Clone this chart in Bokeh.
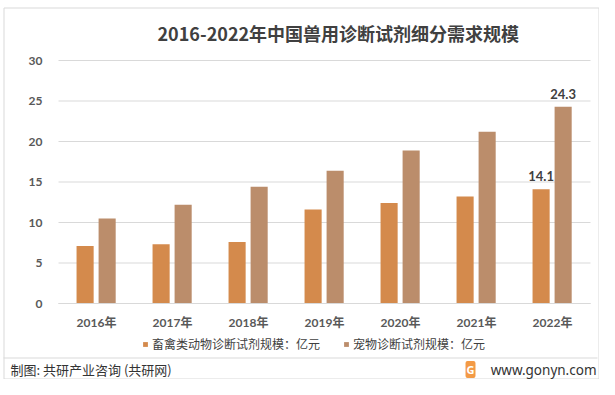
import numpy as np
from bokeh.plotting import figure
from bokeh.models import (ColumnDataSource, Range1d, FixedTicker, Label,
                          Legend, LegendItem)
from bokeh.core.properties import value
from bokeh.embed import file_html
from bokeh.resources import INLINE

years = ["2016年", "2017年", "2018年", "2019年", "2020年", "2021年", "2022年"]
livestock = [7.1, 7.3, 7.6, 11.6, 12.4, 13.2, 14.1]
pet = [10.5, 12.2, 14.4, 16.4, 18.9, 21.2, 24.3]
series_names = ["畜禽类动物诊断试剂规模：亿元", "宠物诊断试剂规模：亿元"]
y_ticks = [0, 5, 10, 15, 20, 25, 30]
title_text = "2016-2022年中国兽用诊断试剂细分需求规模"
footer_left = "制图: 共研产业咨询 (共研网)"
footer_right = "www.gonyn.com"

C1 = "#D48A4C"
C2 = "#BB8D6B"
GRID = "#D9D9D9"
CJK = "'Noto Sans CJK SC'"
NUM = "Lato, 'Noto Sans CJK SC'"

# canvas and plot-area geometry (pixels from top-left)
W, H = 599, 379
PX_L, PX_R = 58, 590          # plot area left / right
PY_0, PY_MAX = 303, 60        # pixel rows of y=0 and y=30
YMAX = y_ticks[-1]
n = len(years)
ppx = (PX_R - PX_L) / n       # pixels per category
ppy = (PY_0 - PY_MAX) / YMAX  # pixels per unit


def dx(px):
    return (px - PX_L) / ppx


def dy(py):
    return (PY_0 - py) / ppy


x_range = Range1d(dx(0), dx(W))
y_range = Range1d(dy(H), dy(0))

p = figure(width=W, height=H, x_range=x_range, y_range=y_range,
           output_backend="svg", toolbar_location=None, min_border=0)
p.outline_line_color = None
p.background_fill_color = "white"
p.border_fill_color = "white"
p.xgrid.visible = False
p.ygrid.visible = False

centers = np.arange(n) + 0.5
OFF1, OFF2, BW = -0.15, 0.14, 0.225
src = ColumnDataSource(dict(x1=centers + OFF1, x2=centers + OFF2, a=livestock, b=pet,
                            la=["" for _ in years[:-1]] + [str(livestock[-1])],
                            lb=["" for _ in years[:-1]] + [str(pet[-1])]))

# outer frame and the separator above the source line (page decoration)
fx0, fx1, fy0, fy1 = dx(3.5), dx(598.5), dy(7.5), dy(378.5)
p.segment(x0=[fx0, fx0, fx1, fx0, dx(3)], y0=[fy0, fy0, fy0, fy1, dy(357.5)],
          x1=[fx1, fx0, fx1, fx1, dx(597)], y1=[fy0, fy1, fy1, fy1, dy(357.5)],
          line_color=GRID, line_width=1)

# horizontal grid lines across the plot area
p.segment(x0=[0] * len(y_ticks), x1=[n] * len(y_ticks), y0=y_ticks, y1=y_ticks,
          line_color=GRID, line_width=1)

r1 = p.vbar(x="x1", top="a", width=BW, source=src, fill_color=C1, line_color=None)
r2 = p.vbar(x="x2", top="b", width=BW, source=src, fill_color=C2, line_color=None)

for xc, yc, tc in (("x1", "a", "la"), ("x2", "b", "lb")):
    p.text(x=xc, y=yc, text=tc, source=src, text_align="center", text_baseline="middle",
           y_offset=-13, text_font=value(NUM), text_font_size="13px",
           text_font_style="bold", text_color="#404040")

# axes fixed inside the canvas
p.yaxis.fixed_location = 0
p.yaxis.ticker = FixedTicker(ticks=y_ticks)
p.yaxis.bounds = (0, YMAX)
p.yaxis.axis_line_color = None
p.yaxis.major_tick_line_color = None
p.yaxis.minor_tick_line_color = None
p.yaxis.major_label_text_font = NUM
p.yaxis.major_label_text_font_size = "12px"
p.yaxis.major_label_text_font_style = "bold"
p.yaxis.major_label_text_color = "#595959"
p.yaxis.major_label_standoff = 10

p.xaxis.fixed_location = 0
p.xaxis.ticker = FixedTicker(ticks=list(centers))
p.xaxis.major_label_overrides = {float(c): y for c, y in zip(centers, years)}
p.xaxis.bounds = (0, n)
p.xaxis.axis_line_color = GRID
p.xaxis.major_tick_line_color = None
p.xaxis.minor_tick_line_color = None
p.xaxis.major_label_text_font = NUM
p.xaxis.major_label_text_font_size = "12px"
p.xaxis.major_label_text_font_style = "bold"
p.xaxis.major_label_text_color = "#595959"
p.xaxis.major_label_standoff = 5


def lbl(x, y, text, **kw):
    p.add_layout(Label(x=x, y=H - y, x_units="screen", y_units="screen", text=text, **kw))


lbl(157, 32, title_text, text_align="left", text_baseline="middle", text_font=CJK,
    text_font_size="18px", text_font_style="bold", text_color="#404040")
lbl(10, 369, footer_left, text_align="left", text_baseline="middle", text_font=CJK,
    text_font_size="13px", text_color="#333333")
lbl(596, 369, footer_right, text_align="right", text_baseline="middle",
    text_font="'Noto Sans'", text_font_size="13.5px", text_color="#333333")
# site logo: white G on an orange tile
lbl(470, 369, "G", text_align="center", text_baseline="middle", text_font="'Noto Sans'",
    text_font_size="11px", text_font_style="bold", text_color="white",
    background_fill_color="#F39A45", padding=1, border_radius=2)

legend = Legend(items=[LegendItem(label=series_names[0], renderers=[r1]),
                       LegendItem(label=series_names[1], renderers=[r2])],
                orientation="horizontal", location=(142, H - 352),
                glyph_width=6, glyph_height=6, label_height=14, label_standoff=4,
                spacing=23, padding=0, margin=0, border_line_color=None,
                background_fill_alpha=0,
                label_text_font=CJK, label_text_font_size="12px",
                label_text_color="#404040", label_text_baseline="middle")
p.add_layout(legend, "center")

open("out.html", "w").write(file_html(p, INLINE))
